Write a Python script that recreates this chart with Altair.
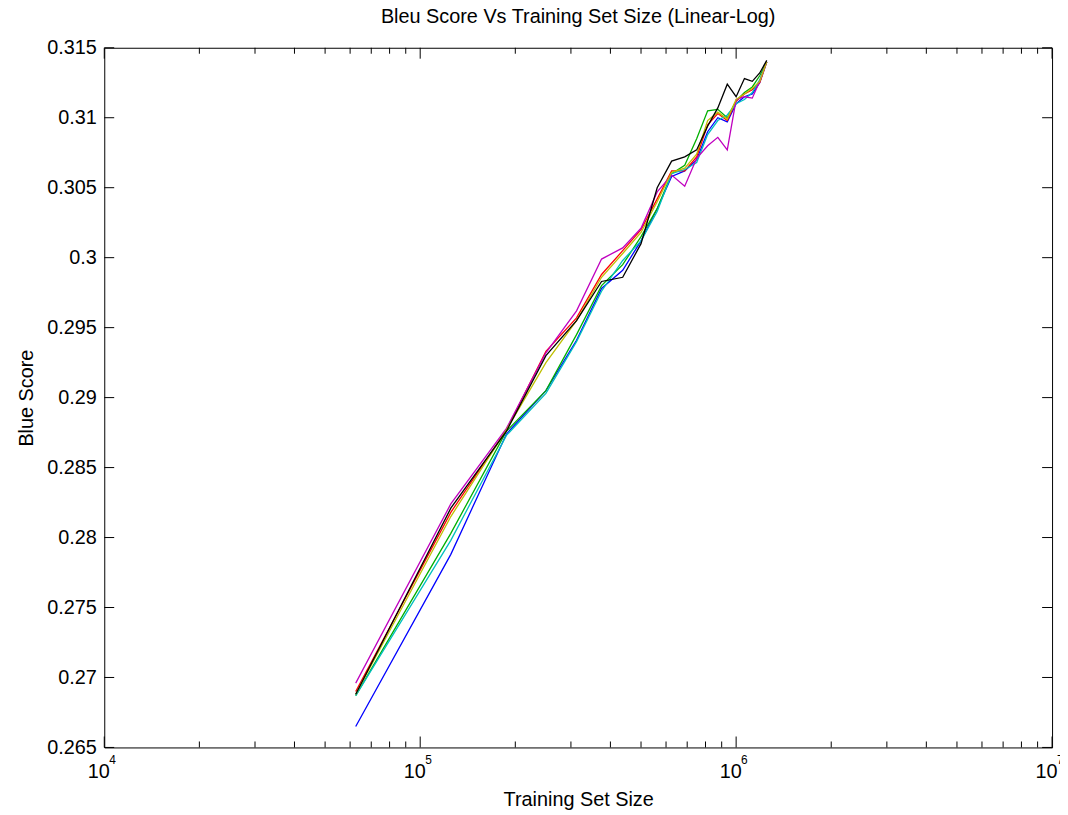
import json
import altair as alt
import pandas as pd

# ---- data ----
train_size = [62500, 125000, 187500, 250000, 312500, 375000, 437500, 500000,
              562500, 625000, 687500, 750000, 812500, 875000, 937500, 1000000,
              1062500, 1125000, 1187500, 1250000]

bleu_blue = [0.2665, 0.2788, 0.2874, 0.2905, 0.2941, 0.2978, 0.2991, 0.3012, 0.3035, 0.3058,
             0.3062, 0.3070, 0.3090, 0.3100, 0.3097, 0.3110, 0.3115, 0.3117, 0.3125, 0.3140]
bleu_green = [0.2687, 0.2803, 0.2876, 0.2905, 0.2945, 0.2980, 0.2995, 0.3015, 0.3035, 0.3060,
              0.3066, 0.3085, 0.3105, 0.3106, 0.3100, 0.3112, 0.3118, 0.3122, 0.3130, 0.3140]
bleu_red = [0.2690, 0.2818, 0.2877, 0.2933, 0.2957, 0.2988, 0.3005, 0.3020, 0.3042, 0.3062,
            0.3062, 0.3072, 0.3095, 0.3103, 0.3098, 0.3112, 0.3117, 0.3120, 0.3125, 0.3140]
bleu_cyan = [0.2687, 0.2798, 0.2873, 0.2903, 0.2940, 0.2976, 0.2998, 0.3012, 0.3033, 0.3060,
             0.3063, 0.3068, 0.3088, 0.3098, 0.3102, 0.3110, 0.3113, 0.3118, 0.3127, 0.3140]
bleu_magenta = [0.2696, 0.2824, 0.2878, 0.2932, 0.2962, 0.2999, 0.3007, 0.3021, 0.3047, 0.3059,
                0.3051, 0.3071, 0.3080, 0.3086, 0.3077, 0.3113, 0.3115, 0.3114, 0.3126, 0.3140]
bleu_yellow = [0.2688, 0.2815, 0.2877, 0.2925, 0.2955, 0.2986, 0.3003, 0.3018, 0.3040, 0.3061,
               0.3064, 0.3074, 0.3098, 0.3104, 0.3099, 0.3113, 0.3117, 0.3121, 0.3126, 0.3140]
bleu_black = [0.2688, 0.2821, 0.2876, 0.2930, 0.2955, 0.2983, 0.2986, 0.3010, 0.3050, 0.3069,
              0.3072, 0.3077, 0.3094, 0.3107, 0.3124, 0.3115, 0.3128, 0.3126, 0.3132, 0.3141]

series_names = ["s1", "s2", "s3", "s4", "s5", "s6", "s7"]
series_values = [bleu_blue, bleu_green, bleu_red, bleu_cyan, bleu_magenta, bleu_yellow, bleu_black]
series_colors = ["#0000ff", "#00b000", "#ff0000", "#00bfbf", "#bf00bf", "#bfbf00", "#000000"]

x_major_ticks = [1e4, 1e5, 1e6, 1e7]
x_major_labels = ["10", "10", "10", "10"]
x_major_exponents = ["4", "5", "6", "7"]
x_minor_ticks = [2e4, 3e4, 4e4, 5e4, 6e4, 7e4, 8e4, 9e4,
                 2e5, 3e5, 4e5, 5e5, 6e5, 7e5, 8e5, 9e5,
                 2e6, 3e6, 4e6, 5e6, 6e6, 7e6, 8e6, 9e6]
y_ticks = [0.265, 0.27, 0.275, 0.28, 0.285, 0.29, 0.295, 0.3, 0.305, 0.31, 0.315]
y_tick_labels = ["0.265", "0.27", "0.275", "0.28", "0.285", "0.29", "0.295", "0.3",
                 "0.305", "0.31", "0.315"]

title_text = "Bleu Score Vs Training Set Size (Linear-Log)"
x_title = "Training Set Size"
y_title = "Blue Score"

# ---- build tables ----
rows = []
for name, vals in zip(series_names, series_values):
    for s, v in zip(train_size, vals):
        rows.append({"size": s, "bleu": v, "series": name})
df = pd.DataFrame(rows)

W, H = 955, 705
FONT = "Liberation Sans"

xscale = alt.Scale(type="log", domain=[1e4, 1e7], nice=False)
yscale = alt.Scale(domain=[0.265, 0.315], nice=False, zero=False)

ylabel_expr = "%s[indexof(%s, datum.value)]" % (json.dumps(y_tick_labels), json.dumps(y_ticks))
xlabel_expr = "%s[indexof(%s, datum.value)]" % (json.dumps(x_major_labels), json.dumps(x_major_ticks))

x_axis = alt.Axis(values=x_major_ticks, labelExpr=xlabel_expr, ticks=False,
                  domain=False, grid=False, labelPadding=14, labelOffset=-6,
                  labelFlush=False, labelOverlap=False,
                  labelFont=FONT, labelFontSize=20, labelColor="black",
                  title=x_title, titleX=W / 2, titleY=52, titleBaseline="middle",
                  titleFont=FONT, titleFontSize=20, titleFontWeight="normal",
                  titleColor="black")
y_axis = alt.Axis(values=y_ticks, labelExpr=ylabel_expr, ticks=False,
                  domain=False, grid=False, labelPadding=8,
                  labelFlush=False, labelOverlap=False,
                  labelFont=FONT, labelFontSize=20, labelColor="black",
                  title=y_title, titleX=-78.5, titleY=H / 2,
                  titleBaseline="middle", titleAngle=270,
                  titleFont=FONT, titleFontSize=20, titleFontWeight="normal",
                  titleColor="black")

lines = alt.Chart(df).mark_line(strokeWidth=1.3).encode(
    x=alt.X("size:Q", scale=xscale, axis=x_axis),
    y=alt.Y("bleu:Q", scale=yscale, axis=y_axis),
    color=alt.Color("series:N", scale=alt.Scale(domain=series_names, range=series_colors),
                    legend=None),
)

xmaj = pd.DataFrame({"size": x_major_ticks, "exp": x_major_exponents})
xmin = pd.DataFrame({"size": x_minor_ticks})
yt = pd.DataFrame({"bleu": y_ticks})

def xrule(data, y0, y1):
    return alt.Chart(data).mark_rule(color="black", strokeWidth=1).encode(
        x=alt.X("size:Q", scale=xscale, axis=x_axis),
        y=alt.value(y0), y2=alt.value(y1))

def yrule(x0, x1):
    return alt.Chart(yt).mark_rule(color="black", strokeWidth=1).encode(
        y=alt.Y("bleu:Q", scale=yscale, axis=y_axis),
        x=alt.value(x0), x2=alt.value(x1))

exps = alt.Chart(xmaj).mark_text(align="left", baseline="top", fontSize=12, dx=5,
                                 font=FONT, color="black").encode(
    x=alt.X("size:Q", scale=xscale, axis=x_axis),
    y=alt.value(H + 8),
    text="exp:N")

chart = alt.layer(
    lines,
    xrule(xmaj, H, H - 11), xrule(xmaj, 0, 11),
    xrule(xmin, H, H - 6), xrule(xmin, 0, 6),
    yrule(0, 10), yrule(W - 10, W),
    exps,
).properties(
    width=W, height=H,
    title=alt.TitleParams(title_text, fontSize=20, font=FONT, fontWeight="normal",
                          color="black", anchor="middle", offset=11),
    padding={"left": 97, "top": 37, "right": 8, "bottom": 65},
    autosize=alt.AutoSizeParams(type="none"),
    background="white",
).configure_view(
    stroke="black", strokeWidth=1
)

chart.save("out.html", embed_options={"renderer": "svg", "actions": False})
